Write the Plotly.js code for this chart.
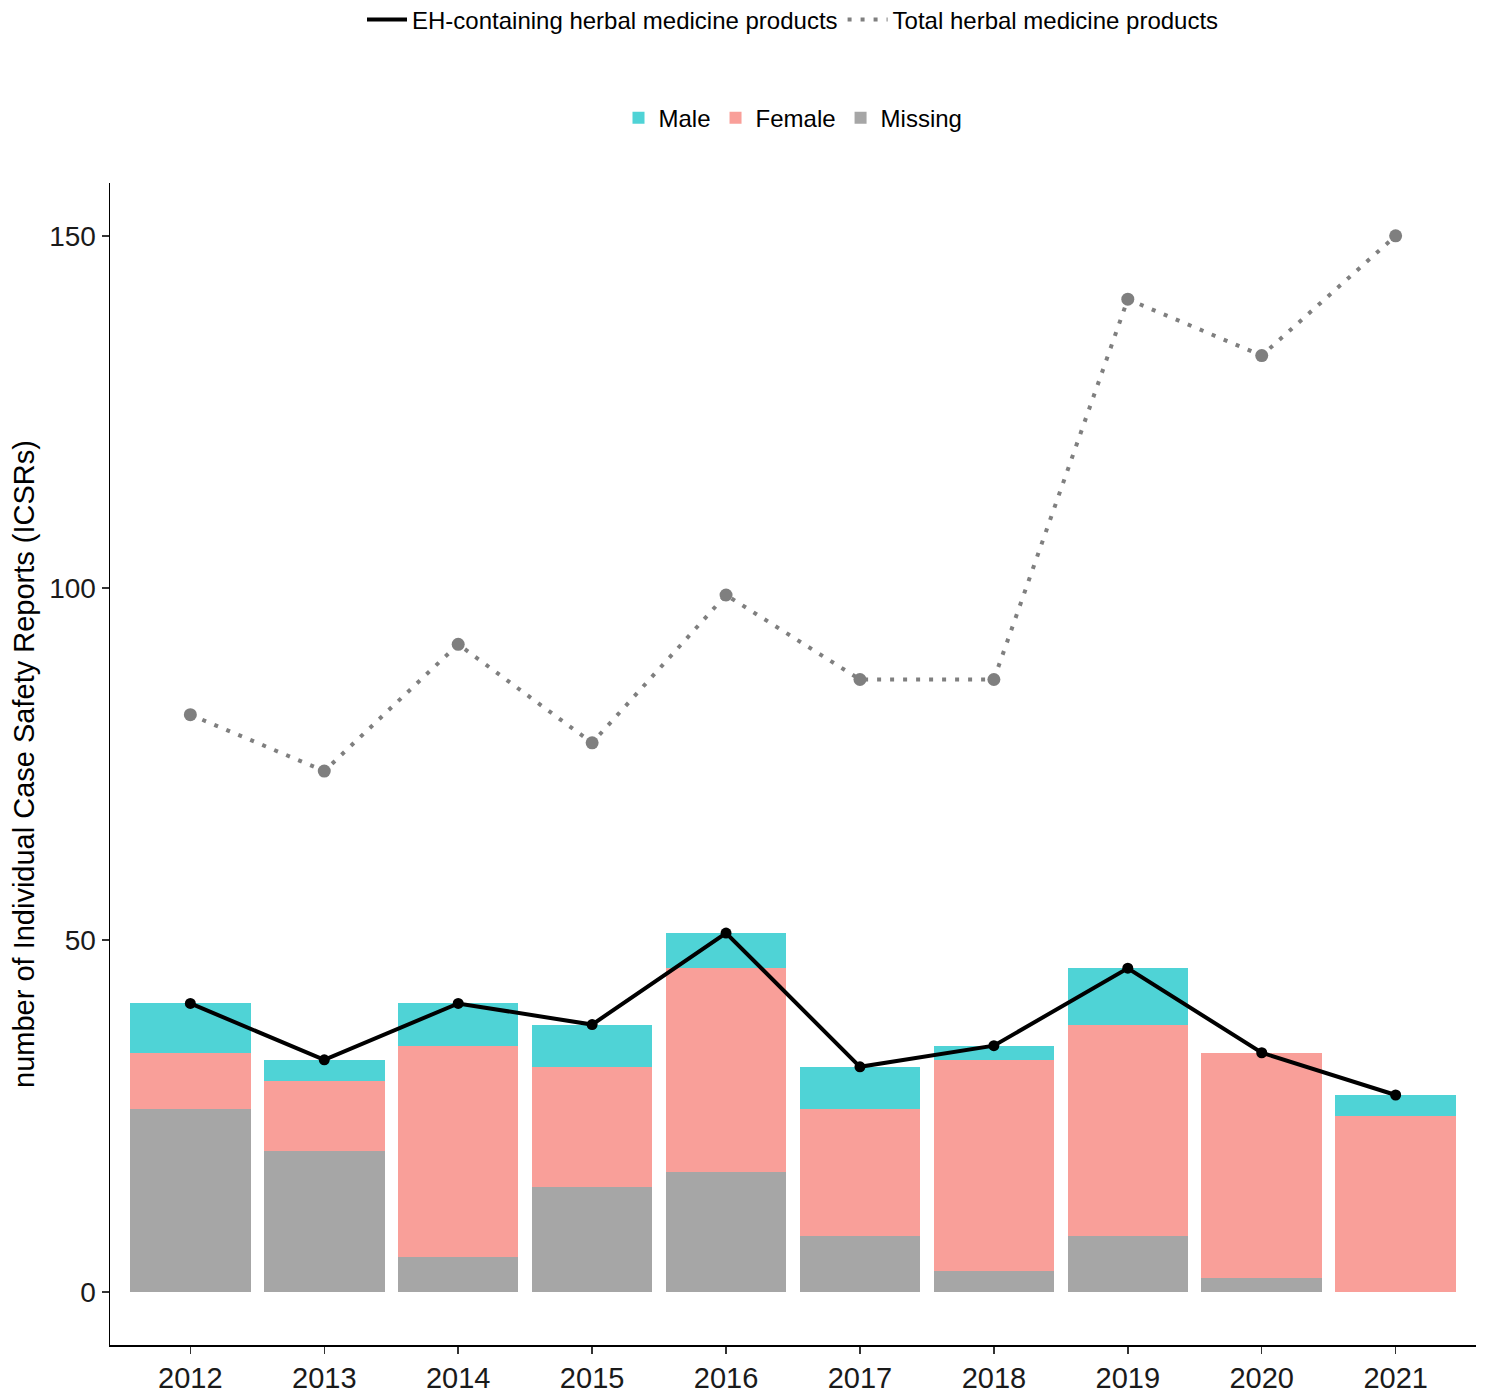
<!DOCTYPE html>
<html>
<head>
<meta charset="utf-8">
<script src="https://cdn.plot.ly/plotly-3.0.1.min.js"></script>
<style>
  html, body { margin: 0; padding: 0; background: #ffffff; }
  #chart { width: 1485px; height: 1394px; }
</style>
</head>
<body>
<div id="chart"></div>
<script>
// Datos
var years = ['2012', '2013', '2014', '2015', '2016', '2017', '2018', '2019', '2020', '2021'];
var missing = [26, 20, 5, 15, 17, 8, 3, 8, 2, 0];
var female = [8, 10, 30, 17, 29, 18, 30, 30, 32, 25];
var male = [7, 3, 6, 6, 5, 6, 2, 8, 0, 3];
var ehProducts = [41, 33, 41, 38, 51, 32, 35, 46, 34, 28];
var totalProducts = [82, 74, 92, 78, 99, 87, 87, 141, 133, 150];
var yTicks = [0, 50, 100, 150];

var FONT = 'Liberation Sans, Arial, sans-serif';

function createBar(name, values, color) {
    return {
        type: 'bar',
        x: years,
        y: values,
        name: name,
        marker: { color: color, line: { width: 0 } },
        legend: 'legend2'
    };
}

// Orden de apilado: Missing abajo, Male arriba
var bar_missing = createBar('Missing', missing, '#A6A6A6');
var bar_female = createBar('Female', female, '#F99F99');
var bar_male = createBar('Male', male, '#4FD3D6');

var line_eh = {
    type: 'scatter', mode: 'lines', x: years, y: ehProducts,
    name: 'EH-containing herbal medicine products',
    line: { color: '#000000', width: 4 },
    legend: 'legend'
};
var points_eh = {
    type: 'scatter', mode: 'markers', x: years, y: ehProducts,
    showlegend: false,
    marker: { color: '#000000', size: 11 }
};
var line_total = {
    type: 'scatter', mode: 'lines', x: years, y: totalProducts,
    name: 'Total herbal medicine products',
    line: { color: '#7F7F7F', width: 4, dash: '4px,9px' },
    legend: 'legend'
};
var points_total = {
    type: 'scatter', mode: 'markers', x: years, y: totalProducts,
    showlegend: false,
    marker: { color: '#7F7F7F', size: 13 }
};

var data = [bar_missing, bar_female, bar_male, line_eh, line_total, points_total, points_eh];

var layout = {
    width: 1485,
    height: 1394,
    paper_bgcolor: '#ffffff',
    plot_bgcolor: '#ffffff',
    font: { family: FONT, color: '#000000' },
    barmode: 'stack',
    bargap: 0.1,
    margin: { l: 110, r: 9, t: 183, b: 49, autoexpand: false },
    xaxis: {
        type: 'category',
        range: [-0.6, 9.6],
        showline: true,
        linecolor: '#000000',
        linewidth: 1.5,
        ticks: 'outside',
        ticklen: 7,
        tickwidth: 1.5,
        tickcolor: '#333333',
        showgrid: false,
        zeroline: false,
        tickfont: { family: FONT, size: 29, color: '#1a1a1a' },
        fixedrange: true
    },
    yaxis: {
        range: [-7.5, 157.5],
        tickvals: yTicks,
        ticktext: yTicks.map(String),
        showline: true,
        linecolor: '#000000',
        linewidth: 1.5,
        ticks: 'outside',
        ticklen: 7,
        tickwidth: 1.5,
        tickcolor: '#333333',
        showgrid: false,
        zeroline: false,
        tickfont: { family: FONT, size: 28, color: '#1a1a1a' },
        title: {
            text: 'number of Individual Case Safety Reports (ICSRs)',
            font: { family: FONT, size: 29, color: '#000000' },
            standoff: 6
        },
        fixedrange: true
    },
    legend: {
        orientation: 'h',
        xref: 'paper', x: 0.5, xanchor: 'center',
        yref: 'container', y: 0.9857, yanchor: 'middle',
        font: { family: FONT, size: 24, color: '#000000' },
        bgcolor: 'rgba(0,0,0,0)',
        itemwidth: 40
    },
    legend2: {
        orientation: 'h',
        xref: 'paper', x: 0.5, xanchor: 'center',
        yref: 'container', y: 0.9153, yanchor: 'middle',
        traceorder: 'reversed',
        font: { family: FONT, size: 24, color: '#000000' },
        bgcolor: 'rgba(0,0,0,0)',
        itemwidth: 30
    },
    showlegend: true
};

Plotly.newPlot('chart', data, layout, { displayModeBar: false, staticPlot: true });
</script>
</body>
</html>
